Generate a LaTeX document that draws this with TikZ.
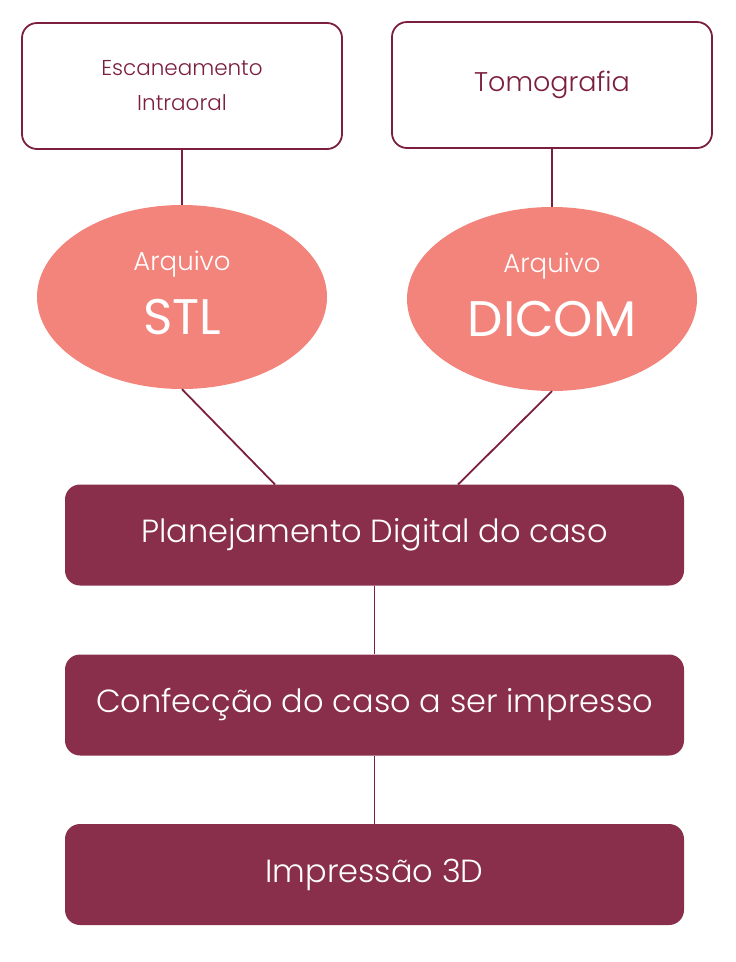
\documentclass[tikz,border=0pt]{standalone}
\usepackage{fontspec}
\setmainfont{Poppins Light}
\newfontfamily\popreg{Poppins}
\usetikzlibrary{shapes.geometric}
\definecolor{maroon}{HTML}{8A2F4B}
\definecolor{maroonline}{HTML}{7B1E3F}
\definecolor{salmon}{HTML}{F3847C}
\begin{document}
\begin{tikzpicture}[x=1pt,y=-1pt,
  topbox/.style={draw=maroonline,line width=1.8pt,rounded corners=15pt,fill=white,
    minimum width=320pt,minimum height=126pt,text=maroonline,align=center,inner sep=0pt},
  fileell/.style={ellipse,fill=salmon,draw=none,minimum width=290pt,minimum height=184pt,inner sep=0pt},
  smalltxt/.style={text=white,anchor=base,inner sep=0pt,font=\fontsize{26}{30}\selectfont},
  bigtxt/.style={text=white,anchor=base,inner sep=0pt,font=\fontsize{50}{54}\selectfont\popreg},
  stepbox/.style={fill=maroon,rounded corners=15pt,minimum width=619pt,minimum height=101pt,
    text=white,inner sep=0pt,font=\fontsize{32}{38}\selectfont},
  conn/.style={draw=maroonline,line width=1.8pt}]
\useasboundingbox (0,0) rectangle (736,962);
\node[topbox,font=\fontsize{21.5}{35}\selectfont] (scan) at (182,86) {Escaneamento\\Intraoral};
\node[topbox,font=\fontsize{27}{32}\selectfont] (tomo) at (552,85) {Tomografia};
\node[fileell] (stl) at (182,297) {};
\node[fileell] (dicom) at (552,299) {};
\node[smalltxt] (stla) at (182,270) {Arquivo};
\node[bigtxt] (stlb) at (182,334) {STL};
\node[smalltxt] (dicoma) at (552,272) {Arquivo};
\node[bigtxt] (dicomb) at (552,336) {DICOM};
\node[stepbox] (plan) at (374.5,535) {Planejamento Digital do caso};
\node[stepbox] (conf) at (374.5,705) {Confecção do caso a ser impresso};
\node[stepbox] (imp) at (374.5,874.5) {Impressão 3D};
\coordinate (jl) at (275,484.5);
\coordinate (jr) at (458,484.5);
\draw[conn] (scan.south) -- (stl.north);
\draw[conn] (tomo.south) -- (dicom.north);
\draw[conn] (stl.south) -- (jl);
\draw[conn] (dicom.south) -- (jr);
\draw[conn] (plan.south) -- (conf.north);
\draw[conn] (conf.south) -- (imp.north);
\end{tikzpicture}
\end{document}
